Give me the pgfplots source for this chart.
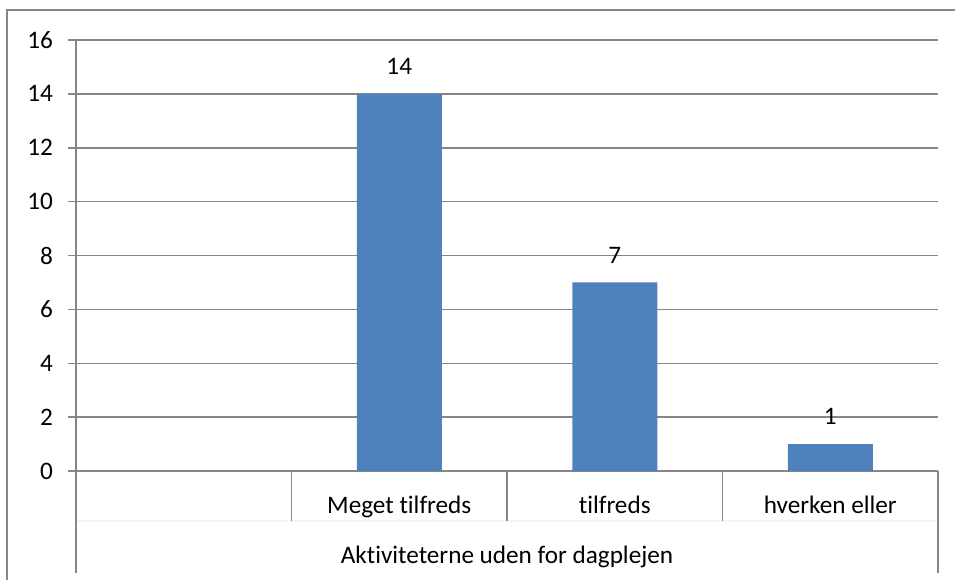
\documentclass[border=0pt]{standalone}
\usepackage{pgfplots}
\pgfplotsset{compat=1.18}
\usepackage{fontspec}
\setmainfont{Carlito}[Ligatures={NoCommon}]
\definecolor{barblue}{RGB}{79,129,189}
\definecolor{gridgray}{RGB}{134,134,134}
\newcommand\lbl{\fontsize{12.6}{14}\selectfont}

\begin{document}
\begin{tikzpicture}
\useasboundingbox (0,0) rectangle (477.5pt,-290pt);
\begin{axis}[
    at={(38pt,-235.5pt)}, anchor=south west,
    scale only axis, width=431pt, height=215.5pt,
    xmin=-0.5, xmax=3.5, ymin=0, ymax=16,
    ytick={0,2,...,16}, xtick=\empty,
    ymajorgrids, grid style={gridgray, line width=0.75pt},
    axis x line*=bottom, axis y line*=left,
    axis line style={gridgray, line width=0.75pt, -},
    tick align=outside, major tick length=4pt,
    ytick style={gridgray, line width=0.75pt},
    ticklabel style={font=\lbl, text=black},
    yticklabel style={anchor=east, xshift=-4pt},
    /pgf/number format/assume math mode=true,
    ybar, bar width=42.5pt,
    nodes near coords,
    nodes near coords style={font=\lbl, text=black, anchor=base, yshift=9.7pt},
    clip=false,
]
\addplot[fill=barblue, draw=none] coordinates {(1,14) (2,7) (3,1)};
\end{axis}
\begin{scope}[x=0.5pt, y=-0.5pt, gridgray, line width=0.75pt]
  \draw (7,580) -- (7,10) -- (955,10);
  \draw[gridgray!8] (76,521) -- (938,521);
  \draw (291.5,471) -- (291.5,521);
  \draw (507,471) -- (507,521);
  \draw (722.5,471) -- (722.5,521);
  \draw (76,471) -- (76,573);
  \draw (938,471) -- (938,573);
  \node[font=\lbl, text=black, anchor=base] at (399.25,513) {Meget tilfreds};
  \node[font=\lbl, text=black, anchor=base] at (614.75,513) {tilfreds};
  \node[font=\lbl, text=black, anchor=base] at (830.25,513) {hverken eller};
  \node[font=\lbl, text=black, anchor=base] at (507,563) {Aktiviteterne uden for dagplejen};
\end{scope}
\end{tikzpicture}
\end{document}
